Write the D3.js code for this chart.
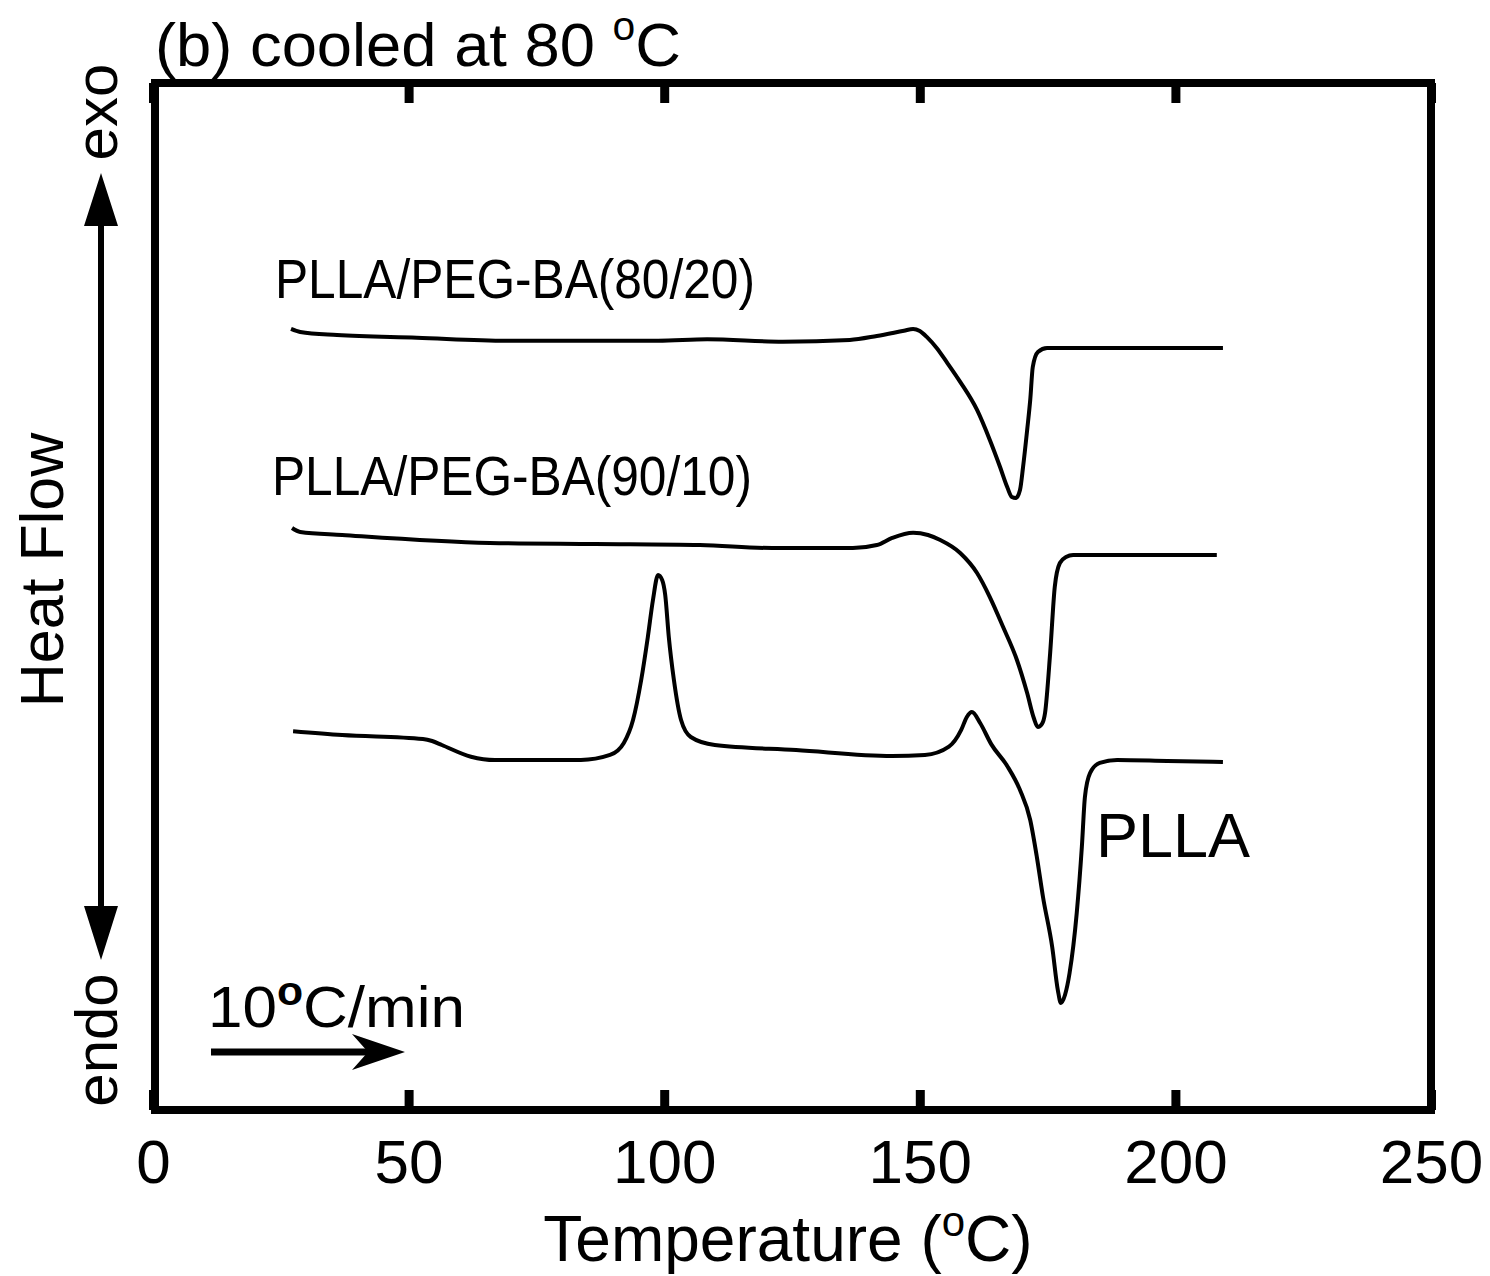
<!DOCTYPE html>
<html>
<head>
<meta charset="utf-8">
<script src="https://cdn.jsdelivr.net/npm/d3@7"></script>
<style>
  body { margin: 0; background: #fff; }
  svg text { font-family: "Liberation Sans", Arial, sans-serif; fill: #000; }
</style>
</head>
<body>
<div id="chart"></div>
<script>
var width = 1490,
  height = 1276,
  frameWidth = 8,
  lineWidth = 4;

// temperature (C) ticks
var xTicks = [0, 50, 100, 150, 200, 250];

// heat flow, arbitrary units (curves are offset from each other)
var tempA = [27.0, 28.8, 36.0, 51.6, 69.2, 98.8, 108.4, 123.2, 136.3, 141.6, 146.9, 148.7, 150.0, 151.5, 153.3, 155.3, 157.9, 161.2, 163.7, 165.7, 167.1, 168.0, 168.8, 169.6, 170.2, 171.0, 171.6, 172.1, 173.1, 174.9, 209.3];
var flowA = [76.05, 75.76, 75.46, 75.20, 74.91, 74.91, 75.04, 74.81, 74.98, 75.37, 75.88, 76.05, 75.85, 75.20, 74.20, 72.80, 70.90, 68.16, 65.24, 62.61, 60.66, 59.69, 59.59, 60.37, 62.61, 66.21, 69.13, 72.35, 73.81, 74.20, 74.20];

var tempB = [27.2, 28.8, 37.0, 65.9, 86.5, 107.0, 121.1, 136.9, 141.6, 144.6, 148.7, 151.6, 154.0, 157.9, 161.2, 163.7, 166.3, 169.0, 171.0, 172.3, 173.1, 173.9, 174.5, 175.5, 176.4, 177.4, 178.6, 180.0, 208.1];
var flowB = [56.67, 56.28, 55.99, 55.21, 55.11, 55.01, 54.72, 54.72, 55.01, 55.70, 56.21, 55.99, 55.50, 54.24, 52.29, 49.95, 47.03, 43.82, 40.60, 38.17, 37.29, 37.59, 38.66, 44.50, 50.93, 53.26, 53.85, 54.04, 54.04];

var tempC = [27.4, 37.0, 52.8, 54.6, 56.5, 62.2, 66.9, 83.7, 89.4, 92.1, 93.9, 95.5, 96.8, 97.8, 98.8, 99.6, 100.2, 100.9, 101.9, 103.3, 105.2, 109.9, 125.8, 144.6, 151.0, 155.7, 158.1, 159.2, 160.2, 161.8, 164.0, 167.1, 169.6, 171.6, 172.9, 174.1, 175.9, 177.0, 177.6, 178.4, 179.3, 180.7, 181.7, 182.3, 183.3, 185.2, 188.6, 198.4, 209.3];
var flowC = [36.88, 36.51, 36.12, 35.93, 35.54, 34.40, 34.08, 34.08, 34.57, 35.74, 37.97, 41.87, 46.06, 49.66, 52.09, 51.61, 50.15, 46.06, 41.87, 37.97, 36.32, 35.54, 35.05, 34.47, 34.57, 35.38, 37.01, 38.27, 38.75, 37.68, 35.60, 33.50, 31.16, 28.24, 24.63, 20.74, 15.87, 11.68, 10.42, 11.20, 13.34, 19.18, 25.61, 30.48, 32.81, 33.79, 34.08, 33.98, 33.88];

var seriesNames = ["PLLA/PEG-BA(80/20)", "PLLA/PEG-BA(90/10)", "PLLA"];

var x = d3.scaleLinear()
  .domain([0, 250])
  .range([153, 1431]);

var y = d3.scaleLinear()
  .domain([0, 100])
  .range([1110, 83]);

var svg = d3.select("#chart").append("svg")
  .attr("width", width)
  .attr("height", height);

// curves
var line = d3.line()
  .x(function (d) { return x(d[0]); })
  .y(function (d) { return y(d[1]); })
  .curve(d3.curveMonotoneX);

var curves = [d3.zip(tempA, flowA), d3.zip(tempB, flowB), d3.zip(tempC, flowC)];

svg.append("g")
  .attr("id", "curves")
  .selectAll("path")
  .data(curves)
  .enter()
  .append("path")
  .attr("d", line)
  .attr("fill", "none")
  .attr("stroke", "#000")
  .attr("stroke-width", lineWidth)
  .attr("stroke-linejoin", "round");

// inside ticks, bottom and top
var bottomAxis = svg.append("g")
  .attr("transform", "translate(0," + y(0) + ")")
  .call(d3.axisBottom(x).tickValues(xTicks).tickSizeInner(-20).tickSizeOuter(0).tickPadding(29));

var topAxis = svg.append("g")
  .attr("transform", "translate(0," + y(100) + ")")
  .call(d3.axisTop(x).tickValues(xTicks).tickSizeInner(-20).tickSizeOuter(0).tickFormat(""));

[bottomAxis, topAxis].forEach(function (a) {
  a.select(".domain").remove();
  a.selectAll(".tick line").attr("stroke", "#000").attr("stroke-width", 9);
});

bottomAxis.selectAll(".tick text")
  .attr("font-size", 62)
  .attr("fill", "#000")
  .style("font-family", "Liberation Sans, Arial, sans-serif");

// frame
svg.append("rect")
  .attr("x", x(0) + 2)
  .attr("y", y(100))
  .attr("width", x(250) - x(0) - 2)
  .attr("height", y(0) - y(100))
  .attr("fill", "none")
  .attr("stroke", "#000")
  .attr("stroke-width", frameWidth);

// x axis title
var xt = svg.append("text")
  .attr("x", 788)
  .attr("y", 1261)
  .attr("text-anchor", "middle")
  .attr("font-size", 64);
xt.append("tspan").text("Temperature (");
xt.append("tspan").attr("font-size", 42).attr("dy", -25).text("o");
xt.append("tspan").attr("dy", 25).text("C)");

// y axis title and exo / endo
svg.append("text")
  .attr("transform", "translate(63,570) rotate(-90)")
  .attr("text-anchor", "middle")
  .attr("font-size", 61)
  .text("Heat Flow");

svg.append("text")
  .attr("transform", "translate(117,112) rotate(-90)")
  .attr("text-anchor", "middle")
  .attr("font-size", 60)
  .text("exo");

svg.append("text")
  .attr("transform", "translate(117,1040) rotate(-90)")
  .attr("text-anchor", "middle")
  .attr("font-size", 60)
  .text("endo");

// exo / endo double arrow
svg.append("line")
  .attr("x1", 101).attr("x2", 101)
  .attr("y1", 215).attr("y2", 920)
  .attr("stroke", "#000")
  .attr("stroke-width", 6);

svg.append("path")
  .attr("d", "M101,173 L118,226 L84,226 Z M101,960 L118,906 L84,906 Z")
  .attr("fill", "#000");

// title
var title = svg.append("text")
  .attr("x", 155)
  .attr("y", 66)
  .attr("font-size", 62)
  .attr("textLength", 526)
  .attr("lengthAdjust", "spacingAndGlyphs");
title.append("tspan").text("(b) cooled at 80 ");
title.append("tspan").attr("font-size", 40).attr("dy", -26).text("o");
title.append("tspan").attr("dy", 26).text("C");

// curve labels
svg.append("text")
  .attr("x", 275).attr("y", 298)
  .attr("font-size", 56)
  .attr("textLength", 480)
  .attr("lengthAdjust", "spacingAndGlyphs")
  .text(seriesNames[0]);

svg.append("text")
  .attr("x", 272).attr("y", 495)
  .attr("font-size", 56)
  .attr("textLength", 480)
  .attr("lengthAdjust", "spacingAndGlyphs")
  .text(seriesNames[1]);

svg.append("text")
  .attr("x", 1096).attr("y", 857)
  .attr("font-size", 63)
  .text(seriesNames[2]);

// heating rate
var rate = svg.append("text")
  .attr("x", 208)
  .attr("y", 1027)
  .attr("font-size", 58)
  .attr("textLength", 257)
  .attr("lengthAdjust", "spacingAndGlyphs");
rate.append("tspan").text("10");
rate.append("tspan").attr("font-size", 40).attr("font-weight", "bold").attr("dy", -22).text("o");
rate.append("tspan").attr("dy", 22).text("C/min");

svg.append("line")
  .attr("x1", 211).attr("x2", 375)
  .attr("y1", 1052).attr("y2", 1052)
  .attr("stroke", "#000")
  .attr("stroke-width", 7);

svg.append("path")
  .attr("d", "M405,1052 L352,1034 L368,1052 L352,1070 Z")
  .attr("fill", "#000");
</script>
</body>
</html>
